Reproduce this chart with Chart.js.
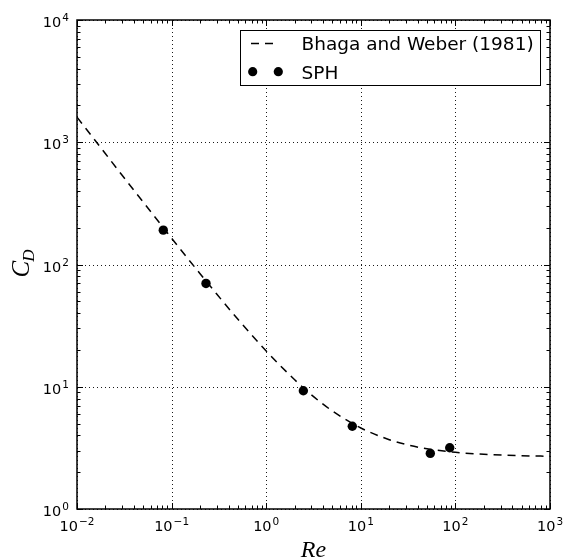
<!DOCTYPE html>
<html>
<head>
<meta charset="utf-8">
<script src="https://cdn.jsdelivr.net/npm/chart.js@4/dist/chart.umd.min.js"></script>
<style>
  html, body { margin: 0; padding: 0; background: #fff; }
  #wrap { width: 563px; height: 560px; position: relative; }
</style>
</head>
<body>
<div id="wrap"><canvas id="c" width="563" height="560"></canvas></div>
<script>
// ---- Data ----
const curveRe = [0.01, 0.02, 0.03, 0.05, 0.1, 0.2, 0.3, 0.5, 1, 2, 3, 5, 10, 20, 30, 50, 100, 200, 500, 1000];
const curveCD = [1605, 805, 537, 325, 164, 84.1, 57.3, 35.8, 19.6, 11.4, 8.59, 6.34, 4.60, 3.69, 3.37, 3.11, 2.91, 2.80, 2.73, 2.70];
const sphRe = [0.0817, 0.231, 2.47, 8.13, 54.3, 87.1];
const sphCD = [191, 70, 9.27, 4.75, 2.85, 3.17];
const xTickExps = [-2, -1, 0, 1, 2, 3];
const yTickExps = [0, 1, 2, 3, 4];
const legendLabels = ['Bhaga and Weber (1981)', 'SPH'];
const xTitle = 'Re';
const yTitleMain = 'C';
const yTitleSub = 'D';

const curvePts = curveRe.map((x, i) => ({x: x, y: curveCD[i]}));
const sphPts = sphRe.map((x, i) => ({x: x, y: sphCD[i]}));

function expStr(e) { return e < 0 ? '\u2212' + (-e) : String(e); }

const decorPlugin = {
  id: 'decor',
  beforeDatasetsDraw(chart) {
    const ctx = chart.ctx, a = chart.chartArea;
    const xs = chart.scales.x, ys = chart.scales.y;
    ctx.save();
    ctx.strokeStyle = '#000';
    ctx.lineWidth = 0.9;
    ctx.setLineDash([1, 3]);
    xTickExps.forEach(e => {
      const px = Math.round(xs.getPixelForValue(Math.pow(10, e))) + 0.5;
      ctx.beginPath(); ctx.moveTo(px, a.top); ctx.lineTo(px, a.bottom); ctx.stroke();
    });
    yTickExps.forEach(e => {
      const py = Math.round(ys.getPixelForValue(Math.pow(10, e))) + 0.5;
      ctx.beginPath(); ctx.moveTo(a.left, py); ctx.lineTo(a.right, py); ctx.stroke();
    });
    ctx.restore();
  },
  afterDraw(chart) {
    const ctx = chart.ctx, a = chart.chartArea;
    const xs = chart.scales.x, ys = chart.scales.y;
    ctx.save();
    ctx.setLineDash([]);
    ctx.strokeStyle = '#000';
    // ticks (inward, all sides)
    const majL = 6, minL = 3.5;
    ctx.lineWidth = 1;
    for (let e = xTickExps[0]; e <= xTickExps[xTickExps.length - 1]; e++) {
      for (let m = 1; m <= 9; m++) {
        const v = m * Math.pow(10, e);
        if (v > Math.pow(10, xTickExps[xTickExps.length - 1]) + 1e-9) break;
        const px = Math.round(xs.getPixelForValue(v)) + 0.5;
        const L = m === 1 ? majL : minL;
        ctx.beginPath();
        ctx.moveTo(px, a.bottom); ctx.lineTo(px, a.bottom - L);
        ctx.moveTo(px, a.top); ctx.lineTo(px, a.top + L);
        ctx.stroke();
      }
    }
    for (let e = yTickExps[0]; e <= yTickExps[yTickExps.length - 1]; e++) {
      for (let m = 1; m <= 9; m++) {
        const v = m * Math.pow(10, e);
        if (v > Math.pow(10, yTickExps[yTickExps.length - 1]) + 1e-9) break;
        const py = Math.round(ys.getPixelForValue(v)) + 0.5;
        const L = m === 1 ? majL : minL;
        ctx.beginPath();
        ctx.moveTo(a.left, py); ctx.lineTo(a.left + L, py);
        ctx.moveTo(a.right, py); ctx.lineTo(a.right - L, py);
        ctx.stroke();
      }
    }
    // frame
    ctx.lineWidth = 1.5;
    ctx.strokeRect(a.left, a.top, a.right - a.left, a.bottom - a.top);

    // tick labels
    const baseFont = '14.5px "DejaVu Sans"';
    const expFont = '10.5px "DejaVu Sans"';
    ctx.fillStyle = '#000';
    ctx.textBaseline = 'alphabetic';
    ctx.textAlign = 'left';
    xTickExps.forEach(e => {
      const px = xs.getPixelForValue(Math.pow(10, e));
      ctx.font = baseFont; const wb = ctx.measureText('10').width;
      ctx.font = expFont; const we = ctx.measureText(expStr(e)).width;
      const x0 = px - (wb + 1 + we) / 2;
      ctx.font = baseFont; ctx.fillText('10', x0, a.bottom + 22);
      ctx.font = expFont; ctx.fillText(expStr(e), x0 + wb + 1, a.bottom + 16);
    });
    yTickExps.forEach(e => {
      const py = ys.getPixelForValue(Math.pow(10, e));
      ctx.font = baseFont; const wb = ctx.measureText('10').width;
      ctx.font = expFont; const we = ctx.measureText(expStr(e)).width;
      const xr = a.left - 8;
      const x0 = xr - we - 1 - wb;
      ctx.font = baseFont; ctx.fillText('10', x0, py + 7);
      ctx.font = expFont; ctx.fillText(expStr(e), x0 + wb + 1, py + 1);
    });

    // axis titles
    ctx.font = 'italic 24px "Liberation Serif"';
    ctx.textAlign = 'center';
    ctx.fillText(xTitle, (a.left + a.right) / 2, 557);

    ctx.save();
    ctx.translate(29, 263);
    ctx.rotate(-Math.PI / 2);
    ctx.textAlign = 'left';
    ctx.font = 'italic 25px "Liberation Serif"';
    const wC = ctx.measureText(yTitleMain).width;
    ctx.font = 'italic 17px "Liberation Serif"';
    const wD = ctx.measureText(yTitleSub).width;
    const sx = -(wC + wD) / 2;
    ctx.font = 'italic 25px "Liberation Serif"';
    ctx.fillText(yTitleMain, sx, 0);
    ctx.font = 'italic 17px "Liberation Serif"';
    ctx.fillText(yTitleSub, sx + wC - 1, 5);
    ctx.restore();

    // legend
    const lx = 240, ly = 30, lw = 300, lh = 55;
    ctx.fillStyle = '#fff';
    ctx.fillRect(lx, ly, lw, lh);
    ctx.lineWidth = 1;
    ctx.strokeStyle = '#000';
    ctx.strokeRect(lx + 0.5, ly + 0.5, lw, lh);
    // row 1: dashed line sample
    ctx.lineWidth = 1.5;
    ctx.setLineDash([8, 6]);
    ctx.beginPath(); ctx.moveTo(251, 43.5); ctx.lineTo(273, 43.5); ctx.stroke();
    ctx.setLineDash([]);
    // row 2: two markers
    ctx.fillStyle = '#000';
    [252.7, 278.3].forEach(cx => {
      ctx.beginPath(); ctx.arc(cx, 71.7, 4.6, 0, Math.PI * 2); ctx.fill();
    });
    ctx.font = '18.5px "DejaVu Sans"';
    ctx.textAlign = 'left';
    ctx.textBaseline = 'alphabetic';
    ctx.fillText(legendLabels[0], 301.5, 50);
    ctx.fillText(legendLabels[1], 301.5, 78.5);
    ctx.restore();
  }
};

new Chart(document.getElementById('c'), {
  type: 'scatter',
  data: {
    datasets: [
      {
        label: legendLabels[1],
        data: sphPts,
        showLine: false,
        pointRadius: 4.7,
        pointHoverRadius: 4.7,
        pointBackgroundColor: '#000',
        pointBorderColor: '#000',
        pointBorderWidth: 0,
        order: 0
      },
      {
        label: legendLabels[0],
        data: curvePts,
        showLine: true,
        borderColor: '#000',
        borderWidth: 1.5,
        borderDash: [8, 6],
        pointRadius: 0,
        pointHoverRadius: 0,
        cubicInterpolationMode: 'monotone',
        fill: false,
        order: 1
      }
    ]
  },
  options: {
    responsive: false,
    animation: false,
    events: [],
    layout: { padding: { left: 77, top: 20, right: 13, bottom: 51 } },
    plugins: { legend: { display: false }, tooltip: { enabled: false } },
    scales: {
      x: { type: 'logarithmic', min: 0.01, max: 1000, display: false },
      y: { type: 'logarithmic', min: 1, max: 10000, display: false }
    }
  },
  plugins: [decorPlugin]
});
</script>
</body>
</html>
